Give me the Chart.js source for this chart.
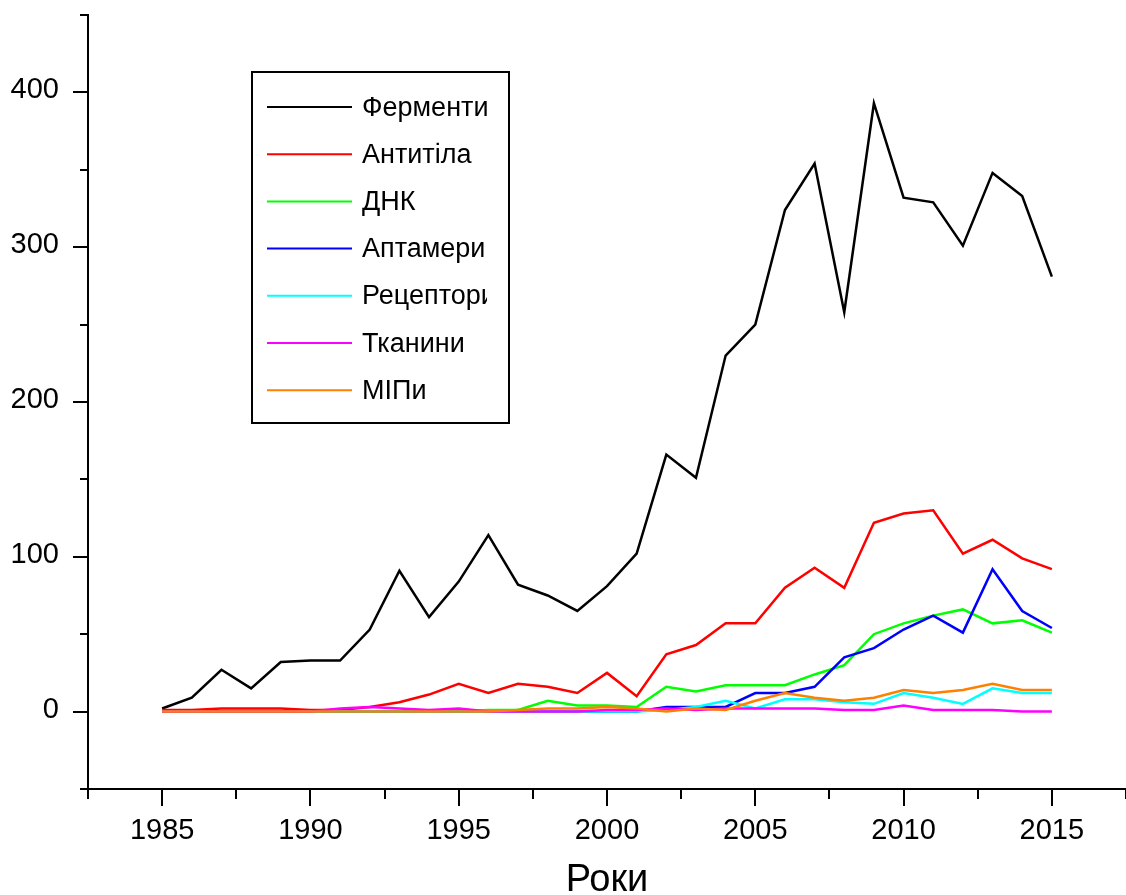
<!DOCTYPE html>
<html>
<head>
<meta charset="utf-8">
<script src="https://cdn.jsdelivr.net/npm/chart.js@4/dist/chart.umd.min.js"></script>
<style>
  html, body { margin: 0; padding: 0; background: #fff; }
  canvas { display: block; }
</style>
</head>
<body>
<canvas id="chart" width="1126" height="895"></canvas>
<script>
// Publications per year, 1985–2015, by type of recognition element
const years = [1985, 1986, 1987, 1988, 1989, 1990, 1991, 1992, 1993, 1994, 1995,
               1996, 1997, 1998, 1999, 2000, 2001, 2002, 2003, 2004, 2005,
               2006, 2007, 2008, 2009, 2010, 2011, 2012, 2013, 2014, 2015];

const seriesNames = ['Ферменти', 'Антитіла', 'ДНК', 'Аптамери', 'Рецептори', 'Тканини', 'МІПи'];
const seriesColors = ['#000000', '#ff0000', '#00ff00', '#0000ff', '#00ffff', '#ff00ff', '#ff8000'];

const enzymes    = [2, 9, 27, 15, 32, 33, 33, 53, 91, 61, 84, 114, 82, 75, 65, 81, 102, 166, 151, 230, 250, 324, 354, 258, 393, 332, 329, 301, 348, 333, 281];
const antibodies = [1, 1, 2, 2, 2, 1, 1, 3, 6, 11, 18, 12, 18, 16, 12, 25, 10, 37, 43, 57, 57, 80, 93, 80, 122, 128, 130, 102, 111, 99, 92];
const dna        = [0, 0, 0, 0, 0, 0, 0, 0, 0, 0, 0, 1, 1, 7, 4, 4, 3, 16, 13, 17, 17, 17, 24, 30, 50, 57, 62, 66, 57, 59, 51];
const aptamers   = [0, 0, 0, 0, 0, 0, 0, 0, 0, 0, 0, 0, 0, 0, 0, 0, 0, 3, 3, 3, 12, 12, 16, 35, 41, 53, 62, 51, 92, 65, 54];
const receptors  = [0, 0, 0, 0, 0, 0, 0, 0, 0, 0, 0, 0, 0, 0, 0, 0, 0, 1, 3, 7, 2, 8, 8, 6, 5, 12, 9, 5, 15, 12, 12];
const tissues    = [0, 0, 0, 0, 0, 0, 2, 3, 2, 1, 2, 0, 0, 0, 0, 1, 1, 2, 1, 2, 2, 2, 2, 1, 1, 4, 1, 1, 1, 0, 0];
const mips       = [0, 0, 0, 0, 0, 0, 0, 0, 0, 0, 0, 0, 1, 2, 2, 3, 2, 0, 2, 1, 7, 12, 9, 7, 9, 14, 12, 14, 18, 14, 14];

const seriesValues = [enzymes, antibodies, dna, aptamers, receptors, tissues, mips];

// Axis ranges and tick steps
const xMin = 1982.5, xMax = 2017.5, xStep = 2.5, xLabelEvery = 5;
const yMin = -50, yMax = 450, yStep = 50, yLabelEvery = 100;

const FONT = '"Liberation Sans", Arial, Helvetica, sans-serif';

const datasets = seriesNames.map((name, i) => ({
  label: name,
  data: years.map((yr, k) => ({ x: yr, y: seriesValues[i][k] })),
  borderColor: seriesColors[i],
  backgroundColor: seriesColors[i],
  borderWidth: 2.5,
  pointRadius: 0,
  tension: 0,
  fill: false,
  order: seriesNames.length - i   // later series are painted on top
}));

// White page behind the plot
const whiteBackground = {
  id: 'whiteBackground',
  beforeDraw(chart) {
    const { ctx, width, height } = chart;
    ctx.save();
    ctx.fillStyle = '#ffffff';
    ctx.fillRect(0, 0, width, height);
    ctx.restore();
  }
};

// Outward tick marks: long at labelled values, short in between
const outwardTicks = {
  id: 'outwardTicks',
  afterDraw(chart) {
    const { ctx, chartArea, scales } = chart;
    const xs = scales.x, ys = scales.y;
    ctx.save();
    ctx.strokeStyle = '#000';
    ctx.lineWidth = 2;
    ctx.beginPath();
    xs.ticks.forEach(t => {
      const px = Math.round(xs.getPixelForValue(t.value));
      const len = Math.abs(t.value % xLabelEvery) < 1e-6 ? 17 : 10;
      ctx.moveTo(px, chartArea.bottom);
      ctx.lineTo(px, chartArea.bottom + len);
    });
    ys.ticks.forEach(t => {
      const py = Math.round(ys.getPixelForValue(t.value));
      const len = Math.abs(t.value % yLabelEvery) < 1e-6 ? 15 : 8;
      ctx.moveTo(chartArea.left, py);
      ctx.lineTo(chartArea.left - len, py);
    });
    ctx.stroke();
    ctx.restore();
  }
};

// Framed legend with a fixed-width text column
const framedLegend = {
  id: 'framedLegend',
  afterDraw(chart, args, o) {
    const ctx = chart.ctx;
    ctx.save();
    ctx.lineWidth = 2;
    ctx.strokeStyle = '#000';
    ctx.strokeRect(o.left, o.top, o.width, o.height);
    ctx.font = o.fontSize + 'px ' + FONT;
    ctx.textBaseline = 'alphabetic';
    ctx.textAlign = 'left';
    chart.data.datasets.forEach((ds, i) => {
      const ly = o.firstRow + i * o.rowGap;
      ctx.strokeStyle = ds.borderColor;
      ctx.lineWidth = 2;
      ctx.beginPath();
      ctx.moveTo(o.lineStart, ly);
      ctx.lineTo(o.lineEnd, ly);
      ctx.stroke();
      ctx.save();
      ctx.beginPath();
      ctx.rect(o.left, o.top, o.textRight - o.left, o.height);
      ctx.clip();
      ctx.fillStyle = '#000';
      ctx.fillText(ds.label, o.textX, ly + o.baselineShift);
      ctx.restore();
    });
    ctx.restore();
  }
};

Chart.defaults.font.family = FONT;
Chart.defaults.color = '#000';

new Chart(document.getElementById('chart'), {
  type: 'line',
  data: { datasets },
  plugins: [whiteBackground, outwardTicks, framedLegend],
  options: {
    responsive: false,
    animation: false,
    devicePixelRatio: 1,
    layout: { padding: { left: 0, right: 0, top: 15, bottom: 0 } },
    plugins: {
      legend: { display: false },
      tooltip: { enabled: false },
      framedLegend: {
        left: 252, top: 72, width: 257, height: 351,
        lineStart: 267, lineEnd: 352,
        firstRow: 107, rowGap: 47.2,
        textX: 362, textRight: 487, fontSize: 27, baselineShift: 8.5
      }
    },
    scales: {
      x: {
        type: 'linear',
        min: xMin, max: xMax,
        grid: { display: false, drawTicks: false },
        border: { display: true, color: '#000', width: 2 },
        ticks: {
          stepSize: xStep,
          autoSkip: false,
          maxRotation: 0,
          padding: 27,
          font: { size: 29, lineHeight: 1 },
          callback: v => (Math.abs(v % xLabelEvery) < 1e-6 ? String(v) : '')
        },
        title: {
          display: true,
          text: 'Роки',
          font: { size: 38, lineHeight: 0.74 },
          padding: { top: 0, bottom: 0 }
        },
        afterFit(scale) {
          scale.height = 106;
          scale.paddingLeft = 0;
          scale.paddingRight = 0;
        }
      },
      y: {
        type: 'linear',
        min: yMin, max: yMax,
        grid: { display: false, drawTicks: false },
        border: { display: true, color: '#000', width: 2 },
        ticks: {
          stepSize: yStep,
          autoSkip: false,
          padding: 29,
          labelOffset: -2,
          font: { size: 29, lineHeight: 1 },
          callback: v => (Math.abs(v % yLabelEvery) < 1e-6 ? String(v) : '')
        },
        afterFit(scale) {
          scale.width = 88;
          scale.paddingTop = 0;
          scale.paddingBottom = 0;
        }
      }
    }
  }
});
</script>
</body>
</html>
